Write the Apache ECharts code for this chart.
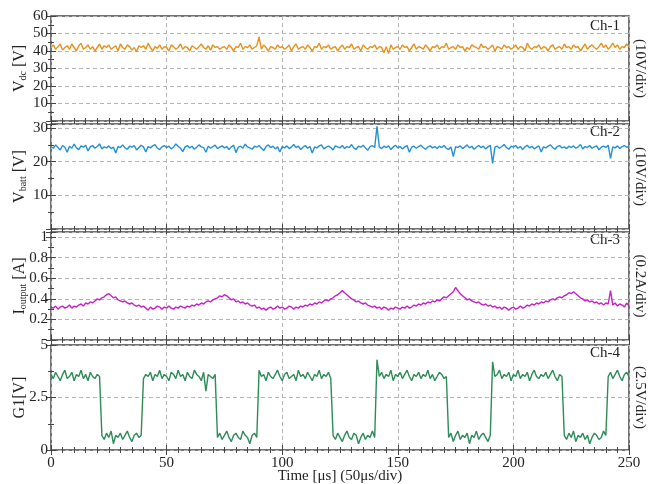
<!DOCTYPE html>
<html>
<head>
<meta charset="utf-8">
<script src="https://cdn.jsdelivr.net/npm/echarts@6/dist/echarts.min.js"></script>
<style>
html,body{margin:0;padding:0;background:#fff;}
#chart{width:649px;height:484px;}
</style>
</head>
<body>
<div id="chart"></div>
<script>
const ch1 = [
42,43.5,41,42.5,44,40.5,42,43,41,44,42,40,43,44.5,41,42,43.5,41,42.5,40,42,44,41,43,42,
43.5,41,42,43,40,44,42,41,43.5,42.5,40.5,42,39.5,43,42,43,41,44.5,42,40,42.5,41.5,43.5,41,42.5,
42,40,43.5,42.5,41,42,44,41,42.5,42,40,43,42,41,42.5,44,42,41,43,40.5,43.5,42,42.5,41,42,
42.5,41,43.5,42,40,42.5,42,44.5,41,42.5,42,43.5,41,42,43,48,41,43.5,42,40,42.5,42,41,43.5,42,
42.5,41,42,43.5,40,42.5,44,41,42,42.5,41,43.5,42,40,42.5,42,44.5,41,42.5,42,43.5,41,42,42.5,40,
42,43.5,41,42.5,42,44,41,42,42.5,40,43.5,42,41,42.5,42,43.5,41,42.5,42,39,42.5,38.5,43.5,41,42,
42.5,41,43.5,42,42.5,40,42,44,41,42.5,42,41,43.5,42,40,42.5,42,43.5,41,42.5,42,44.5,41,42,42.5,
41,43.5,42,42.5,40,42,41,43.5,42.5,42,41,44,42,42.5,41,42,43.5,40,42.5,42,41,43.5,42,42.5,41,
42,43.5,41,42.5,42,40,44.5,42,41,42.5,42,43.5,41,42.5,42,40,42.5,43.5,41,42,42.5,41,44,42,42.5,
41,43.5,42,42.5,40,42,44,41,42.5,43.5,42,41,42.5,44.5,42,43.5,41,42.5,44.5,42,43.5,41,42.5,42,44,
42.5];
const ch2 = [
24.5,24,25,24.2,23.5,24.8,24.3,22.8,24.6,24,25.2,24.1,23.6,24.7,24.3,24.9,23.2,24.4,24.8,24,24.5,25.3,23.8,24.4,24.1,
24.7,23.9,24.3,22.6,24.5,24.2,25,24.1,23.7,24.6,24.3,24.8,23.5,24.2,24.9,24.4,22.9,24.5,24.1,24.7,25.1,24,23.6,24.4,24.8,
24.2,24.6,23.8,24.3,25.3,24.5,24,23,24.4,24.8,24.1,24.6,23.7,24.3,25,24.4,24.2,22.8,24.6,24,24.5,24.9,23.9,24.3,24.7,
24.1,24.5,23.6,24.4,24.9,22.7,24.3,24.6,24,25.2,24.4,24.1,23.7,24.6,24.3,24.8,24,23.3,24.5,25,24.2,24.6,23.8,24.4,22.9,
24.5,24.1,24.7,23.9,24.4,25.1,24.2,24.6,23.6,24.3,24.8,24,24.5,22.6,24.4,24.1,24.7,25,23.8,24.3,24.6,24.2,23.5,24.7,24.4,
24.1,24.8,23.9,24.5,24.2,25.1,24,23.7,24.6,24.3,24.9,24.1,23.4,24.5,24.8,24.2,30.5,24.4,23.9,24.6,24.2,24.7,23.6,24.4,24.9,
24.1,24.5,23.8,24.4,24.8,22.8,24.3,24.6,24,24.5,24.9,24.2,23.7,24.4,24.7,24.1,24.5,23.9,24.6,24.2,24.8,24,23.6,24.4,21.5,
24.5,24.2,24.7,23.9,24.4,25,24.1,24.6,23.7,24.3,24.8,24.2,24.6,23.8,24.4,24.9,19.5,24.3,24.6,24,24.5,25.1,24.2,23.7,24.6,
24.3,24.8,24,24.5,23.6,24.4,24.9,24.1,24.6,23.8,24.3,24.7,22.9,24.4,24.1,24.6,25,24.2,23.7,24.5,24.8,24.1,24.4,23.9,24.6,
24.2,24.7,24,24.4,25.1,23.8,24.5,24.2,24.8,24,24.4,24.7,23.5,24.3,24.6,24.2,24.9,21,24.4,24.1,24.7,23.9,24.5,24.8,24.3,
24.5];
const ch3 = [
0.32,0.31,0.33,0.30,0.32,0.33,0.31,0.32,0.34,0.31,0.33,
0.32,0.34,0.35,0.33,0.36,0.35,0.37,0.36,0.38,0.40,0.39,0.41,0.42,0.44,0.45,
0.43,0.41,0.42,0.39,0.38,0.37,0.38,0.36,0.35,0.36,0.34,0.33,0.34,0.32,0.33,0.31,0.29,0.32,0.30,
0.31,0.33,0.32,0.30,0.32,0.31,0.33,0.31,0.30,0.32,0.31,0.33,0.32,0.31,0.33,0.32,
0.34,0.33,0.35,0.34,0.36,0.35,0.37,0.38,0.37,0.39,0.40,0.41,0.43,0.42,0.44,
0.43,0.41,0.39,0.40,0.37,0.38,0.36,0.37,0.35,0.36,0.34,0.33,0.34,0.31,0.32,0.30,0.31,0.29,0.31,
0.32,0.30,0.31,0.33,0.31,0.32,0.30,0.31,0.33,0.32,0.30,0.32,0.31,0.33,0.32,0.34,
0.33,0.35,0.34,0.36,0.35,0.37,0.36,0.38,0.39,0.38,0.40,0.41,0.43,0.44,0.46,0.48,
0.46,0.44,0.42,0.40,0.39,0.37,0.38,0.36,0.35,0.36,0.34,0.33,0.32,0.33,0.31,0.32,0.30,0.32,
0.31,0.29,0.31,0.30,0.32,0.31,0.30,0.32,0.31,0.33,0.31,0.32,0.34,0.33,0.35,0.34,
0.36,0.35,0.37,0.36,0.38,0.37,0.39,0.38,0.40,0.42,0.41,0.43,0.45,0.47,0.51,
0.48,0.45,0.43,0.41,0.39,0.40,0.38,0.37,0.36,0.37,0.35,0.34,0.35,0.33,0.34,0.32,0.33,0.31,0.32,
0.30,0.32,0.31,0.29,0.31,0.32,0.30,0.31,0.33,0.31,0.32,0.34,0.33,0.35,0.34,0.36,
0.35,0.37,0.36,0.38,0.37,0.39,0.40,0.39,0.41,0.42,0.41,0.43,0.44,0.46,0.45,0.47,
0.45,0.43,0.41,0.40,0.38,0.39,0.37,0.38,0.36,0.37,0.35,0.36,0.34,0.36,0.35,0.48,0.34,0.36,0.33,0.35,0.34,0.32,0.36,0.33];
const ch4 = [
3.6,3.4,3.7,3.5,3.3,3.6,3.8,3.4,3.5,3.7,3.3,3.6,3.5,3.8,3.4,3.6,3.3,3.7,3.5,3.4,3.6,3.5,
0.7,0.5,0.8,0.6,0.9,0.3,0.7,0.6,0.8,0.5,0.7,0.9,0.6,0.4,0.7,0.8,0.6,0.7,
3.4,3.6,3.5,3.7,3.3,3.6,3.5,3.8,3.4,3.6,3.5,3.3,3.7,3.6,3.4,3.8,3.5,3.6,3.3,3.7,3.5,3.4,3.8,3.6,3.5,3.3,3.7,2.8,3.6,3.5,3.4,3.6,
0.6,0.8,0.5,0.7,0.9,0.6,0.4,0.7,0.8,0.6,0.5,0.9,0.7,0.6,0.3,0.7,0.8,0.6,
3.8,3.5,3.6,3.3,3.7,3.5,3.4,3.6,3.8,3.5,3.3,3.6,3.7,3.4,3.5,3.6,3.3,3.8,3.5,3.6,3.4,3.7,3.5,3.3,3.6,3.5,3.8,3.4,3.6,3.5,3.7,3.4,
0.7,0.5,0.8,0.6,0.4,0.7,0.9,0.6,0.5,0.8,0.7,0.3,0.6,0.8,0.5,0.7,0.6,0.9,0.6,
4.3,3.5,3.7,3.4,3.6,3.5,3.8,3.3,3.6,3.5,3.7,3.4,3.6,3.8,3.5,3.3,3.6,3.5,3.7,3.4,3.6,3.5,3.8,3.4,3.6,3.3,3.5,3.7,3.6,3.4,3.5,
0.6,0.8,0.4,0.7,0.9,0.5,0.7,0.6,0.8,0.3,0.7,0.6,0.9,0.5,0.7,0.8,0.6,0.4,0.7,
4.2,3.5,3.6,3.8,3.4,3.6,3.5,3.7,3.3,3.6,3.5,3.8,3.4,3.6,3.5,3.7,3.3,3.6,3.8,3.5,3.4,3.6,3.5,3.7,3.4,3.6,3.8,3.5,3.3,3.6,3.5,
0.7,0.5,0.8,0.6,0.9,0.4,0.7,0.6,0.8,0.5,0.7,0.3,0.6,0.8,0.7,0.5,0.6,0.9,0.7,
3.5,3.7,3.4,3.6,3.8,3.5,3.3,3.6,3.7,3.5];

const sampleStep = 1; // µs per sample
const xTicks = [0, 50, 100, 150, 200, 250];
const ch1Ticks = [10, 20, 30, 40, 50, 60];
const ch2Ticks = [10, 20, 30];
const ch3Ticks = [0.2, 0.4, 0.6, 0.8, 1];
const ch4Ticks = [0, 2.5, 5];
const chNames = ['Ch-1', 'Ch-2', 'Ch-3', 'Ch-4'];
const divNames = ['(10V/div)', '(10V/div)', '(0.2A/div)', '(2.5V/div)'];

// ---- Layout / style ----
const FONT = '"Liberation Serif", "Times New Roman", serif';
const TXT = '#222';
const colors = ['#E8911C', '#2391D4', '#C81FC8', '#2E8B57'];
const grids = [
  {top: 16, height: 105},
  {top: 124, height: 105},
  {top: 232, height: 108},
  {top: 345, height: 105}
];
const yRanges = [
  {min: 0, max: 60, interval: 10, minor: 2, ticks: ch1Ticks},
  {min: 0, max: 31.2, interval: 10, minor: 2, ticks: ch2Ticks},
  {min: 0, max: 1.05, interval: 0.2, minor: 2, ticks: ch3Ticks},
  {min: 0, max: 5, interval: 2.5, minor: 2, ticks: ch4Ticks}
];
const yNames = [
  '{a|V}{s|dc}{a| [V]}',
  '{a|V}{s|batt}{a| [V]}',
  '{a|I}{s|output}{a| [A]}',
  '{a|G1[V]}'
];
const series = [ch1, ch2, ch3, ch4];

function pairs(arr) {
  return arr.map((v, i) => [i * sampleStep, v]);
}

const grid = grids.map(g => ({
  left: 51, right: 20, top: g.top, height: g.height,
  containLabel: false, outerBoundsMode: 'none',
  show: true, borderColor: '#444', borderWidth: 1.5, backgroundColor: 'transparent'
}));

const xAxis = [];
for (let i = 0; i < 4; i++) {
  const last = i === 3;
  xAxis.push({
    type: 'value', gridIndex: i, min: 0, max: 250, interval: 50, position: 'bottom',
    axisLine: {show: false},
    axisTick: {show: true, inside: true, length: 5, lineStyle: {color: '#444'}},
    minorTick: {show: true, splitNumber: 10, length: 3, lineStyle: {color: '#444'}},
    axisLabel: {show: last, margin: 6, fontFamily: FONT, fontSize: 15, color: TXT,
      formatter: v => xTicks.includes(v) ? String(v) : ''},
    splitLine: {show: true, lineStyle: {color: '#b4b4b4', type: [4, 3], width: 1}},
    name: last ? 'Time [μs] (50μs/div)' : '', nameLocation: 'middle', nameGap: 19,
    nameMoveOverlap: false,
    nameTextStyle: {fontFamily: FONT, fontSize: 15, color: TXT}
  });
}
for (let i = 0; i < 4; i++) {
  xAxis.push({
    type: 'value', gridIndex: i, min: 0, max: 250, interval: 50, position: 'top',
    axisLine: {show: false},
    axisTick: {show: true, inside: true, length: 5, lineStyle: {color: '#444'}},
    minorTick: {show: true, splitNumber: 10, length: 3, lineStyle: {color: '#444'}},
    axisLabel: {show: false}, splitLine: {show: false}
  });
}

const yAxis = [];
for (let i = 0; i < 4; i++) {
  const r = yRanges[i];
  yAxis.push({
    type: 'value', gridIndex: i, min: r.min, max: r.max, interval: r.interval, position: 'left',
    axisLine: {show: false},
    axisTick: {show: true, inside: true, length: 5, lineStyle: {color: '#444'}},
    minorTick: {show: true, splitNumber: r.minor, length: 3, lineStyle: {color: '#444'}},
    axisLabel: {margin: 3, fontFamily: FONT, fontSize: 15, color: TXT,
      formatter: v => r.ticks.some(t => Math.abs(t - v) < 1e-6) ? String(+v.toFixed(2)) : ''},
    splitLine: {show: true, lineStyle: {color: '#b4b4b4', type: [4, 3], width: 1}},
    name: yNames[i], nameLocation: 'middle', nameRotate: 90, nameGap: 23,
    nameMoveOverlap: false,
    nameTextStyle: {
      rich: {
        a: {fontFamily: FONT, fontSize: 16, color: TXT},
        s: {fontFamily: FONT, fontSize: 10, color: TXT, verticalAlign: 'bottom', padding: [6, 0, 0, 0]}
      }
    }
  });
}
for (let i = 0; i < 4; i++) {
  const r = yRanges[i];
  yAxis.push({
    type: 'value', gridIndex: i, min: r.min, max: r.max, interval: r.interval, position: 'right',
    axisLine: {show: false},
    axisTick: {show: true, inside: true, length: 5, lineStyle: {color: '#444'}},
    minorTick: {show: true, splitNumber: r.minor, length: 3, lineStyle: {color: '#444'}},
    axisLabel: {show: false}, splitLine: {show: false},
    name: divNames[i], nameLocation: 'middle', nameRotate: -90, nameGap: 3,
    nameMoveOverlap: false,
    nameTextStyle: {fontFamily: FONT, fontSize: 15, color: TXT}
  });
}

const chY = [28, 134, 242, 355];
const graphic = chNames.map((n, i) => ({
  type: 'text', right: 29, top: chY[i] - 9,
  style: {text: n, font: '15px ' + FONT, fill: TXT}
}));

const chart = echarts.init(document.getElementById('chart'), null, {renderer: 'canvas'});
chart.setOption({
  animation: false,
  backgroundColor: '#fff',
  grid, xAxis, yAxis, graphic,
  series: series.map((s, i) => ({
    type: 'line', xAxisIndex: i, yAxisIndex: i, data: pairs(s),
    showSymbol: false, symbol: 'none',
    lineStyle: {color: colors[i], width: 1.4}, z: 3
  }))
});
</script>
</body>
</html>
